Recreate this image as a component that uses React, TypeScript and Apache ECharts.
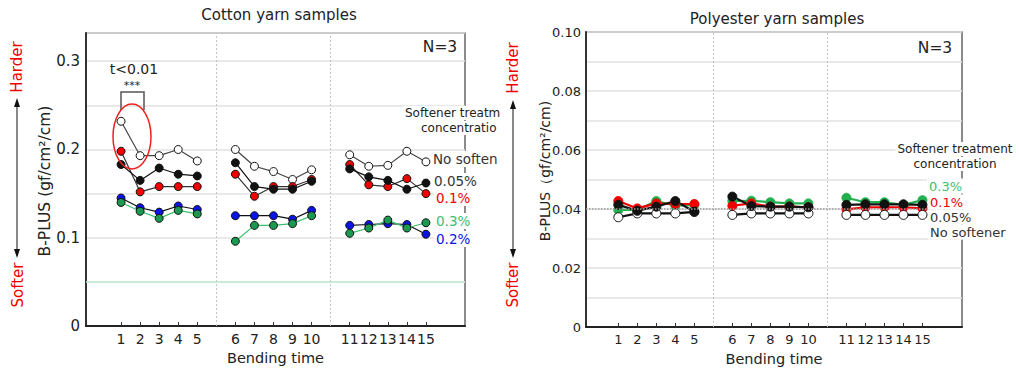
import React, { useEffect, useRef } from 'react';
import * as echarts from 'echarts';

// ---------- data ----------
const bendingTimes = [1, 2, 3, 4, 5, 6, 7, 8, 9, 10, 11, 12, 13, 14, 15];
const xPositions = [1, 2, 3, 4, 5, 7, 8, 9, 10, 11, 13, 14, 15, 16, 17];

const cottonNoSoftener = [0.232, 0.193, 0.193, 0.2, 0.187, 0.2, 0.181, 0.175, 0.166, 0.177, 0.194, 0.181, 0.182, 0.198, 0.186];
const cotton005 = [0.183, 0.165, 0.179, 0.172, 0.17, 0.185, 0.158, 0.155, 0.155, 0.164, 0.178, 0.169, 0.165, 0.155, 0.162];
const cotton01 = [0.198, 0.152, 0.158, 0.158, 0.158, 0.172, 0.147, 0.158, 0.158, 0.166, 0.183, 0.16, 0.158, 0.167, 0.15];
const cotton02 = [0.145, 0.134, 0.129, 0.136, 0.132, 0.125, 0.125, 0.125, 0.121, 0.131, 0.114, 0.115, 0.116, 0.115, 0.104];
const cotton03 = [0.14, 0.13, 0.122, 0.131, 0.127, 0.096, 0.114, 0.114, 0.116, 0.125, 0.105, 0.111, 0.12, 0.111, 0.117];

const polyNoSoftener = [0.0372, 0.0385, 0.0385, 0.0385, 0.039, 0.038, 0.0385, 0.0385, 0.0385, 0.0385, 0.038, 0.038, 0.038, 0.038, 0.038];
const poly005 = [0.0414, 0.0394, 0.0408, 0.0427, 0.0391, 0.0442, 0.041, 0.0408, 0.0408, 0.0406, 0.0414, 0.0416, 0.0416, 0.0416, 0.0414];
const poly01 = [0.0427, 0.0402, 0.0419, 0.0417, 0.0417, 0.0411, 0.0419, 0.0408, 0.0408, 0.0406, 0.0399, 0.0406, 0.0406, 0.0406, 0.0402];
const poly03 = [0.0397, 0.0397, 0.0427, 0.0411, 0.0414, 0.0427, 0.0428, 0.0423, 0.0419, 0.0419, 0.0438, 0.0423, 0.0423, 0.0414, 0.043];

const cottonTicks = [0, 0.1, 0.2, 0.3];
const polyTicks = [0, 0.02, 0.04, 0.06, 0.08, 0.1];
const groupSeparators = [6, 12];
const cottonReference = 0.05;
const polyReference = 0.0403;

const FONT = 'DejaVu Sans';
const RED = '#f00000';
const BLUE = '#0a14e6';
const GREEN = '#1a9a50';
const GREEN_LIGHT = '#3cc070';

const toData = (vals: number[]) => {
  const out: any[] = [];
  vals.forEach((v, i) => {
    if (i > 0 && xPositions[i] - xPositions[i - 1] > 1) out.push([xPositions[i] - 1, '-']);
    out.push([xPositions[i], v]);
  });
  return out;
};

const labelOf: Record<number, string> = {};
xPositions.forEach((p, i) => (labelOf[p] = String(bendingTimes[i])));

const isTick = (v: number, ticks: number[]) => ticks.some((t) => Math.abs(t - v) < 1e-9);

const txt = (x: number, y: number, text: string, o: any = {}) => ({
  type: 'text',
  x,
  y,
  rotation: o.rotation || 0,
  z: 100,
  style: {
    text,
    fill: o.fill || '#222',
    fontSize: o.fontSize || 14,
    fontFamily: FONT,
    align: o.align || 'left',
    verticalAlign: 'middle',
    backgroundColor: o.bg,
    padding: o.bg ? [1, 2, 1, 2] : undefined,
    width: o.width,
    overflow: o.width ? 'truncate' : undefined,
    ellipsis: '',
  },
});

const arrow = (x: number, y1: number, y2: number) => [
  { type: 'line', z: 100, shape: { x1: x, y1: y1 + 6, x2: x, y2: y2 - 6 }, style: { stroke: '#111', lineWidth: 1 } },
  { type: 'polygon', z: 100, shape: { points: [[x, y1], [x - 3, y1 + 9], [x + 3, y1 + 9]] }, style: { fill: '#111' } },
  { type: 'polygon', z: 100, shape: { points: [[x, y2], [x - 3, y2 - 9], [x + 3, y2 - 9]] }, style: { fill: '#111' } },
];

export default function App() {
  const ref = useRef<HTMLDivElement>(null);
  useEffect(() => {
    document.body.style.margin = '0';
    const chart = echarts.init(ref.current!, null, { renderer: 'svg' });

    const xAxisBase = (fontSize: number) => ({
      type: 'value',
      axisLine: { onZero: false, lineStyle: { color: '#222', width: 2 } },
      axisTick: { show: true, inside: true, length: 4, customValues: xPositions, lineStyle: { color: '#333' } },
      axisLabel: {
        customValues: xPositions,
        formatter: (v: number) => labelOf[Math.round(v)] ?? '',
        fontSize,
        fontFamily: FONT,
        color: '#222',
        margin: 6,
      },
      splitLine: { show: false },
      name: 'Bending time',
      nameLocation: 'middle',
      nameGap: 24,
      nameTextStyle: { fontSize: 14.5, fontFamily: FONT, color: '#222' },
    });

    const yAxisLine = { show: true, onZero: false, lineStyle: { color: '#333', width: 2 } };

    const cottonSeries = (name: string, vals: number[], fill: string, line: string, extra: any = {}) => ({
      type: 'line',
      name,
      xAxisIndex: 0,
      yAxisIndex: 0,
      data: toData(vals),
      symbol: 'circle',
      symbolSize: 8,
      itemStyle: { color: fill, borderColor: '#111', borderWidth: 1 },
      lineStyle: { color: line, width: 1.2 },
      connectNulls: false,
      ...extra,
    });
    const polySeries = (name: string, vals: number[], fill: string, line: string, border: string, extra: any = {}) => ({
      type: 'line',
      name,
      xAxisIndex: 1,
      yAxisIndex: 1,
      data: toData(vals),
      symbol: 'circle',
      symbolSize: 9,
      itemStyle: { color: fill, borderColor: border, borderWidth: 1 },
      lineStyle: { color: line, width: 2.2 },
      connectNulls: false,
      ...extra,
    });

    const sepLines = (ref: number, refStyle: any) => ({
      silent: true,
      symbol: 'none',
      label: { show: false },
      data: [
        ...groupSeparators.map((s) => ({ xAxis: s, lineStyle: { color: '#c4c4c4', type: [2, 2], width: 1 } })),
        { yAxis: ref, lineStyle: refStyle },
      ],
    });

    chart.setOption({
      animation: false,
      textStyle: { fontFamily: FONT },
      grid: [
        { left: 86, top: 33, width: 379, height: 293, show: true, borderColor: '#666', borderWidth: 1.5 },
        { left: 586, top: 32, width: 376, height: 295, show: true, borderColor: '#666', borderWidth: 1.5 },
      ],
      xAxis: [
        { ...xAxisBase(14), gridIndex: 0, min: -0.84, max: 19.05 },
        { ...xAxisBase(13), gridIndex: 1, min: -0.7, max: 19.08 },
      ],
      yAxis: [
        {
          type: 'value',
          gridIndex: 0,
          min: 0,
          max: 0.332,
          interval: 0.05,
          axisLine: yAxisLine,
          axisTick: { show: false },
          axisLabel: {
            formatter: (v: number) => (isTick(v, cottonTicks) ? (v === 0 ? '0' : v.toFixed(1)) : ''),
            fontSize: 15,
            fontFamily: FONT,
            color: '#222',
            margin: 6,
          },
          splitLine: { show: true, lineStyle: { color: '#e2e2e2', width: 1.5 } },
        },
        {
          type: 'value',
          gridIndex: 1,
          min: 0,
          max: 0.1,
          interval: 0.01,
          axisLine: yAxisLine,
          axisTick: { show: false },
          axisLabel: {
            formatter: (v: number) => (isTick(v, polyTicks) ? (v === 0 ? '0' : v.toFixed(2)) : ''),
            fontSize: 13,
            fontFamily: FONT,
            color: '#222',
            margin: 5,
            padding: [8, 0, 0, 0],
          },
          splitLine: { show: true, lineStyle: { color: '#e2e2e2', width: 1.5 } },
        },
      ],
      series: [
        cottonSeries('No softener', cottonNoSoftener, '#ffffff', '#444', {
          markLine: sepLines(cottonReference, { color: '#bfe8d2', type: 'solid', width: 1.5 }),
        }),
        cottonSeries('0.1%', cotton01, RED, '#333'),
        cottonSeries('0.05%', cotton005, '#111', '#111'),
        cottonSeries('0.2%', cotton02, BLUE, '#111'),
        cottonSeries('0.3%', cotton03, GREEN, GREEN_LIGHT),
        polySeries('0.3%', poly03, '#22b04f', '#22b04f', '#22b04f', {
          markLine: sepLines(polyReference, { color: '#999', type: 'dotted', width: 1.5 }),
        }),
        polySeries('0.1%', poly01, RED, RED, RED),
        polySeries('No softener', polyNoSoftener, '#ffffff', '#111', '#111'),
        polySeries('0.05%', poly005, '#111', '#111', '#111'),
      ],
      graphic: [
        // titles
        txt(279, 15, 'Cotton yarn samples', { align: 'center', fontSize: 15 }),
        txt(777, 19, 'Polyester yarn samples', { align: 'center', fontSize: 15 }),
        // y axis names
        txt(45, 181, 'B-PLUS (gf/cm²/cm)', { align: 'center', fontSize: 15.5, rotation: Math.PI / 2 }),
        txt(545, 171, 'B-PLUS（gf/cm²/cm)', { align: 'center', fontSize: 14, rotation: Math.PI / 2 }),
        // Harder / Softer
        txt(17, 67, 'Harder', { align: 'center', fontSize: 15, fill: RED, rotation: Math.PI / 2 }),
        txt(18, 285, 'Softer', { align: 'center', fontSize: 15, fill: RED, rotation: Math.PI / 2 }),
        ...arrow(17, 98, 258),
        txt(513, 68, 'Harder', { align: 'center', fontSize: 15, fill: RED, rotation: Math.PI / 2 }),
        txt(513, 285, 'Softer', { align: 'center', fontSize: 15, fill: RED, rotation: Math.PI / 2 }),
        ...arrow(513, 100, 258),
        // N=3
        txt(440, 47, 'N=3', { align: 'center', fontSize: 15.5 }),
        txt(935, 48, 'N=3', { align: 'center', fontSize: 15.5 }),
        // significance
        txt(134, 69, 't<0.01', { align: 'center', fontSize: 14 }),
        txt(132, 85, '***', { align: 'center', fontSize: 11 }),
        {
          type: 'polyline',
          z: 100,
          shape: { points: [[121, 110], [121, 92], [144, 92], [144, 110]] },
          style: { stroke: '#555', lineWidth: 1.5, fill: 'none' },
        },
        {
          type: 'ellipse',
          z: 100,
          shape: { cx: 132, cy: 136.5, rx: 19, ry: 32.5 },
          style: { stroke: '#ee2020', lineWidth: 1.5, fill: 'none' },
        },
        // cotton legend
        txt(403, 113, 'Softener treatment', { fontSize: 12, bg: '#fff', width: 100 }),
        txt(419, 128, 'concentration', { fontSize: 12, bg: '#fff', width: 84 }),
        txt(431, 159, 'No softener', { fontSize: 13.5, bg: '#fff', width: 72, fill: '#333' }),
        txt(432, 181, '0.05%', { fontSize: 13.5, bg: '#fff', fill: '#333' }),
        txt(434, 198, '0.1%', { fontSize: 13.5, bg: '#fff', fill: RED }),
        txt(434, 221, '0.3%', { fontSize: 13.5, bg: '#fff', fill: GREEN_LIGHT }),
        txt(434, 239, '0.2%', { fontSize: 13.5, bg: '#fff', fill: BLUE }),
        // polyester legend
        txt(955, 149, 'Softener treatment', { align: 'center', fontSize: 12, bg: '#fff' }),
        txt(955, 164, 'concentration', { align: 'center', fontSize: 12, bg: '#fff' }),
        txt(927, 186, '0.3%', { fontSize: 13, bg: '#fff', fill: GREEN_LIGHT }),
        txt(928, 202, '0.1%', { fontSize: 13, bg: '#fff', fill: RED }),
        txt(928, 217, '0.05%', { fontSize: 13, bg: '#fff', fill: '#333' }),
        txt(928, 232, 'No softener', { fontSize: 13, bg: '#fff', fill: '#333' }),
      ],
    });
    return () => chart.dispose();
  }, []);
  return <div ref={ref} style={{ width: 1019, height: 371 }} />;
}
